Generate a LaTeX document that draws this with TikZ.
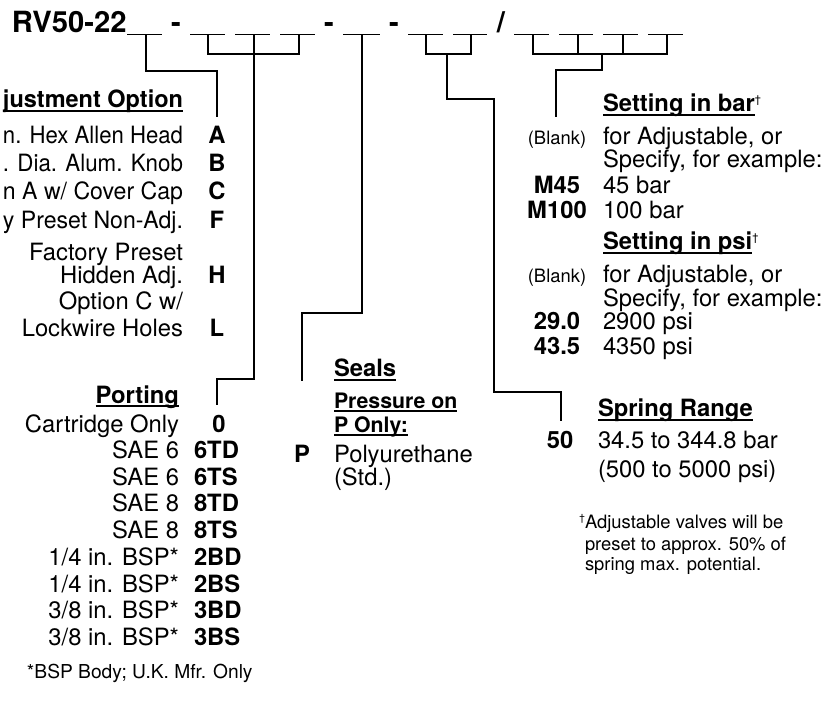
\documentclass[tikz,border=0pt]{standalone}
\usepackage{fontspec}
\setmainfont{TeX Gyre Heros}
\newcommand\myul[1]{\setbox0\hbox{#1}\rlap{\vrule width\wd0 height -2pt depth 3.6pt}\box0}
\newcommand\dgr{\raisebox{8pt}{\fontsize{11}{11}\selectfont\mdseries\textdagger}}
\newcommand\fitx[1]{\setbox0\hbox{#1}\ifdim\wd0>180pt\resizebox{180pt}{\height}{#1}\else\box0\fi}
\tikzset{
  body/.style={font=\fontsize{23.8}{27}\selectfont, inner sep=0pt, outer sep=0pt},
  bodyb/.style={font=\fontsize{23.8}{27}\selectfont\bfseries, inner sep=0pt, outer sep=0pt},
  smalltxt/.style={font=\fontsize{18.4}{21}\selectfont, inner sep=0pt, outer sep=0pt},
  subhead/.style={font=\fontsize{21.3}{24}\selectfont\bfseries, inner sep=0pt, outer sep=0pt},
  titletxt/.style={font=\fontsize{29.2}{32}\selectfont\bfseries, inner sep=0pt, outer sep=0pt},
  conn/.style={line width=1.3pt, black},
  blankline/.style={line width=1.7pt, black},
}
\begin{document}
\begin{tikzpicture}[x=1pt,y=-1pt]
\useasboundingbox (0,0) rectangle (833,703);
\clip (0,0) rectangle (833,703);
\fill[white] (0,0) rectangle (833,703);

% ---- title line
\node[titletxt, anchor=base west] (ttl) at (12,33) {RV50-22};
\node[titletxt, anchor=base] (d1) at (176,33) {-};
\node[titletxt, anchor=base] (d2) at (329,33) {-};
\node[titletxt, anchor=base] (d3) at (394,33) {-};
\node[titletxt, anchor=base] (sl) at (501,33) {/};

\foreach \a/\b in {127/162,190/225,235/270,280/315,343/380,408/443,453/487,514/549,559/593,603/638,648/683}
  \draw[blankline] (\a,34.5) -- (\b,34.5);

\coordinate (u1) at (146,35.5);
\coordinate (u2) at (208,35.5);
\coordinate (u3) at (254,35.5);
\coordinate (u4) at (299,35.5);
\coordinate (u5) at (362,35.5);
\coordinate (u6) at (426,35.5);
\coordinate (u7) at (471,35.5);
\coordinate (u8) at (533,35.5);
\coordinate (u9) at (578,35.5);
\coordinate (u10) at (623,35.5);
\coordinate (u11) at (667,35.5);
\coordinate (b67) at (447,54);
\coordinate (b811) at (602,54);

\coordinate (adjEnd) at (217,117);
\coordinate (portEnd) at (217,405);
\coordinate (sealEnd) at (302,381);
\coordinate (sprEnd) at (561,421);
\coordinate (setEnd) at (556,117);

% ---- connectors
\draw[conn] (u1) -- (146,71) -| (adjEnd);
\draw[conn] (u2) -- (208,54) -- (299,54) -- (u4);
\draw[conn] (u3) -- (254,379) -| (portEnd);
\draw[conn] (u5) -- (362,313) -| (sealEnd);
\draw[conn] (u6) -- (426,54) -- (471,54) -- (u7);
\draw[conn] (b67) -- (447,99) -| (494,392) -| (sprEnd);
\draw[conn] (u8) -- (533,54) -- (667,54) -- (u11);
\draw[conn] (u9) -- (578,54);
\draw[conn] (u10) -- (623,54);
\draw[conn] (b811) -- (602,70) -| (setEnd);

% ---- adjustment option
\node[bodyb, anchor=base east] (adjH) at (183,108) {\myul{\fitx{justment Option}}};
\node[body, anchor=base east] (a1) at (183,144) {\fitx{n. Hex Allen Head}};
\node[bodyb, anchor=base] (cA) at (217,144) {A};
\node[body, anchor=base east] (a2) at (183,172) {\fitx{. Dia. Alum. Knob}};
\node[bodyb, anchor=base] (cB) at (217,172) {B};
\node[body, anchor=base east] (a3) at (183,200) {\fitx{n A w/ Cover Cap}};
\node[bodyb, anchor=base] (cC) at (217,200) {C};
\node[body, anchor=base east] (a4) at (183,229) {\fitx{y Preset Non-Adj.}};
\node[bodyb, anchor=base] (cF) at (217,229) {F};
\node[body, anchor=base east] (a5) at (183,261) {Factory Preset};
\node[body, anchor=base east] (a5b) at (183,284) {Hidden Adj.};
\node[bodyb, anchor=base] (cH) at (217,284) {H};
\node[body, anchor=base east] (a6) at (183,310) {Option C w/};
\node[body, anchor=base east] (a6b) at (183,337) {Lockwire Holes};
\node[bodyb, anchor=base] (cL) at (217,337) {L};

% ---- porting
\node[bodyb, anchor=base east] (portH) at (179,403) {\myul{Porting}};
\node[body, anchor=base east] (p0) at (179,432) {Cartridge Only};
\node[bodyb, anchor=base] (c0) at (219,432) {0};
\node[body, anchor=base east] (p1) at (179,458) {SAE 6};
\node[bodyb, anchor=base west] (c1) at (194,458) {6TD};
\node[body, anchor=base east] (p2) at (179,485) {SAE 6};
\node[bodyb, anchor=base west] (c2) at (194,485) {6TS};
\node[body, anchor=base east] (p3) at (179,511) {SAE 8};
\node[bodyb, anchor=base west] (c3) at (194,511) {8TD};
\node[body, anchor=base east] (p4) at (179,538) {SAE 8};
\node[bodyb, anchor=base west] (c4) at (194,538) {8TS};
\node[body, anchor=base east] (p5) at (179,565) {1/4 in. BSP*};
\node[bodyb, anchor=base west] (c5) at (194,565) {2BD};
\node[body, anchor=base east] (p6) at (179,592) {1/4 in. BSP*};
\node[bodyb, anchor=base west] (c6) at (194,592) {2BS};
\node[body, anchor=base east] (p7) at (179,618) {3/8 in. BSP*};
\node[bodyb, anchor=base west] (c7) at (194,618) {3BD};
\node[body, anchor=base east] (p8) at (179,645) {3/8 in. BSP*};
\node[bodyb, anchor=base west] (c8) at (194,645) {3BS};
\node[smalltxt, font=\fontsize{19.2}{22}\selectfont, anchor=base west] (pnote) at (27,678) {*BSP Body; U.K. Mfr. Only};

% ---- seals
\node[bodyb, anchor=base west] (sealH) at (334,377) {\myul{Seals}};
\node[subhead, anchor=base west] (sealS1) at (334,408) {\myul{Pressure on}};
\node[subhead, anchor=base west] (sealS2) at (334,432) {\myul{P Only:}};
\node[bodyb, anchor=base] (cP) at (302,462) {P};
\node[body, anchor=base west] (s1) at (334,462) {Polyurethane};
\node[body, anchor=base west] (s1b) at (334,485) {(Std.)};

% ---- setting
\node[bodyb, anchor=base west] (barH) at (603,112) {\myul{Setting in bar}\dgr};
\node[smalltxt, anchor=base] (bk1) at (557,145) {(Blank)};
\node[body, anchor=base west] (b1) at (603,145) {for Adjustable, or};
\node[body, anchor=base west] (b1b) at (603,168) {Specify, for example:};
\node[bodyb, anchor=base] (cM45) at (557,194) {M45};
\node[body, anchor=base west] (b2) at (603,194) {45 bar};
\node[bodyb, anchor=base] (cM100) at (557,219) {M100};
\node[body, anchor=base west] (b3) at (603,219) {100 bar};
\node[bodyb, anchor=base west] (psiH) at (603,250) {\myul{Setting in psi}\dgr};
\node[smalltxt, anchor=base] (bk2) at (557,283) {(Blank)};
\node[body, anchor=base west] (q1) at (603,283) {for Adjustable, or};
\node[body, anchor=base west] (q1b) at (603,307) {Specify, for example:};
\node[bodyb, anchor=base] (c290) at (557,330) {29.0};
\node[body, anchor=base west] (q2) at (603,330) {2900 psi};
\node[bodyb, anchor=base] (c435) at (557,355) {43.5};
\node[body, anchor=base west] (q3) at (603,355) {4350 psi};

% ---- spring range
\node[bodyb, anchor=base west] (sprH) at (598,417) {\myul{Spring Range}};
\node[bodyb, anchor=base] (c50) at (560,448) {50};
\node[body, anchor=base west] (r1) at (598,448) {34.5 to 344.8 bar};
\node[body, anchor=base west] (r1b) at (598,477) {(500 to 5000 psi)};

% ---- footnote
\node[smalltxt, anchor=base east] (fdg) at (585,528) {\raisebox{7pt}{\fontsize{10}{10}\selectfont\textdagger}};
\node[smalltxt, anchor=base west] (f1) at (585,528) {Adjustable valves will be};
\node[smalltxt, anchor=base west] (f2) at (585,550) {preset to approx. 50\% of};
\node[smalltxt, anchor=base west] (f3) at (585,570) {spring max. potential.};
\end{tikzpicture}
\end{document}
